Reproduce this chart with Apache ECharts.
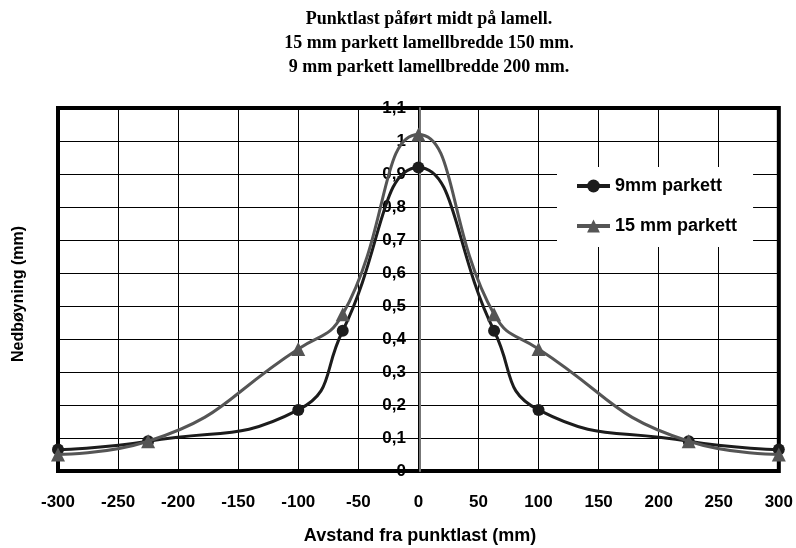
<!DOCTYPE html>
<html>
<head>
<meta charset="utf-8">
<script src="https://cdn.jsdelivr.net/npm/echarts@6/dist/echarts.min.js"></script>
<style>html,body{margin:0;padding:0;background:#fff}#c{width:796px;height:548px}</style>
</head>
<body>
<div id="c"></div>
<script>
const titleLines = ['Punktlast påført midt på lamell.', '15 mm parkett lamellbredde 150 mm.', '9 mm parkett lamellbredde 200 mm.'];
const xName = 'Avstand fra punktlast (mm)';
const yName = 'Nedbøyning (mm)';
const seriesNames = ['9mm parkett', '15 mm parkett'];
const xValues = [-300, -225, -100, -63, 0, 63, 100, 225, 300];
const values9 = [0.065, 0.09, 0.185, 0.425, 0.92, 0.425, 0.185, 0.09, 0.065];
const values15 = [0.05, 0.09, 0.37, 0.475, 1.02, 0.475, 0.37, 0.09, 0.05];

const chart = echarts.init(document.getElementById('c'), null, {renderer: 'canvas'});
const pair = (vals) => xValues.map((x, i) => [x, vals[i]]);
const fmt = (v) => {
  const r = Math.round(v * 10) / 10;
  return String(r).replace('.', ',');
};
chart.setOption({
  animation: false,
  backgroundColor: '#fff',
  title: {
    text: titleLines.join('\n'),
    left: 424, top: 2, textAlign: 'center',
    textStyle: {fontFamily: 'Liberation Serif', fontWeight: 'bold', fontSize: 18, lineHeight: 24, color: '#000'}
  },
  grid: {left: 58, right: 14, top: 108, bottom: 77, show: true, borderColor: '#000', borderWidth: 4, backgroundColor: 'transparent'},
  legend: {
    orient: 'vertical', left: 557, top: 167,
    backgroundColor: '#fff', padding: [10, 16, 12, 18], itemGap: 22,
    itemWidth: 33, itemHeight: 16, itemStyle: {borderWidth: 0},
    lineStyle: {width: 4},
    textStyle: {fontFamily: 'Liberation Sans', fontWeight: 'bold', fontSize: 18, color: '#000'},
    data: seriesNames
  },
  xAxis: {
    type: 'value', min: -300, max: 300, interval: 50,
    axisLine: {show: false, onZero: false},
    axisTick: {show: false},
    splitLine: {show: true, lineStyle: {color: '#000', width: 1}},
    axisLabel: {margin: 23, fontFamily: 'Liberation Sans', fontWeight: 'bold', fontSize: 17, color: '#000'}
  },
  yAxis: {
    type: 'value', min: 0, max: 1.1, interval: 0.1, position: 'left', offset: -362,
    axisLine: {show: true, onZero: false, lineStyle: {color: '#777', width: 2}},
    axisTick: {show: false},
    splitLine: {show: true, lineStyle: {color: '#000', width: 1}},
    axisLabel: {margin: 14, fontFamily: 'Liberation Sans', fontWeight: 'bold', fontSize: 17, color: '#000', formatter: fmt, padding: [5, 0, 0, 0]}
  },
  graphic: [
    {type: 'text', x: 420, y: 527, style: {text: xName, fontFamily: 'Liberation Sans', fontWeight: 'bold', fontSize: 18, fill: '#000', align: 'center', verticalAlign: 'top'}},
    {type: 'text', x: 11, y: 294, rotation: Math.PI / 2, style: {text: yName, fontFamily: 'Liberation Sans', fontWeight: 'bold', fontSize: 16, fill: '#000', align: 'center', verticalAlign: 'top'}}
  ],
  series: [
    {name: seriesNames[0], type: 'line', data: pair(values9), smooth: 0.5,
      symbol: 'circle', symbolSize: 12, lineStyle: {color: '#1c1c1c', width: 3}, itemStyle: {color: '#1c1c1c'}, z: 3},
    {name: seriesNames[1], type: 'line', data: pair(values15), smooth: 0.5,
      symbol: 'triangle', symbolSize: 14, lineStyle: {color: '#555555', width: 3}, itemStyle: {color: '#555555'}, z: 4}
  ]
});
</script>
</body>
</html>
